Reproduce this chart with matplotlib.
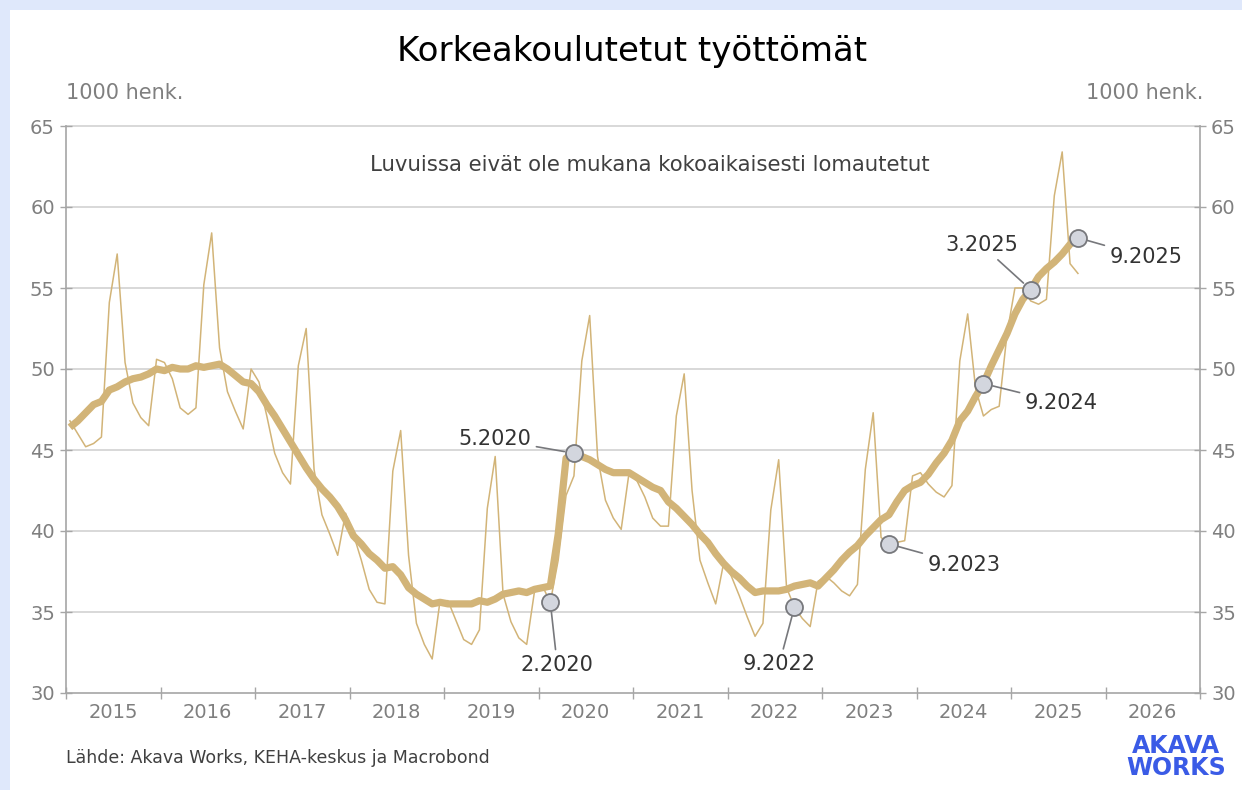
import matplotlib
matplotlib.use('Agg')
import matplotlib.pyplot as plt
import numpy as np
from matplotlib.patches import Rectangle

# kuukausidata 1.2015 - 9.2025 (1000 henk.)
monthly = [
    46.8, 46.0, 45.2, 45.4, 45.8, 54.1, 57.1, 50.4, 47.9, 47.0, 46.5, 50.6,
    50.4, 49.4, 47.6, 47.2, 47.6, 55.2, 58.4, 51.3, 48.6, 47.4, 46.3, 50.0,
    49.2, 47.1, 44.8, 43.6, 42.9, 50.2, 52.5, 43.8, 41.0, 39.8, 38.5, 41.1,
    39.8, 38.2, 36.4, 35.6, 35.5, 43.7, 46.2, 38.5, 34.3, 33.0, 32.1, 35.7,
    35.7, 34.5, 33.3, 33.0, 33.9, 41.4, 44.6, 36.1, 34.4, 33.4, 33.0, 36.3,
    36.6, 35.6, 38.2, 42.2, 43.4, 50.5, 53.3, 44.6, 41.9, 40.8, 40.1, 43.6,
    43.1, 42.1, 40.8, 40.3, 40.3, 47.1, 49.7, 42.5, 38.2, 36.8, 35.5, 38.0,
    37.2, 36.0, 34.7, 33.5, 34.3, 41.3, 44.4, 36.5, 35.3, 34.6, 34.1, 36.9,
    37.2, 36.8, 36.3, 36.0, 36.7, 43.8, 47.3, 39.6, 39.2, 39.3, 39.4, 43.4,
    43.6, 42.9, 42.4, 42.1, 42.8, 50.5, 53.4, 48.8, 47.1, 47.5, 47.7, 52.2,
    55.0, 55.0, 54.2, 54.0, 54.3, 60.7, 63.4, 56.5, 55.9,
]

trend = [
    46.4, 46.8, 47.3, 47.8, 48.0, 48.7, 48.9, 49.2, 49.4, 49.5, 49.7, 50.0,
    49.9, 50.1, 50.0, 50.0, 50.2, 50.1, 50.2, 50.3, 50.0, 49.6, 49.2, 49.1,
    48.6, 47.8, 47.1, 46.3, 45.5, 44.7, 43.9, 43.2, 42.6, 42.1, 41.5, 40.7,
    39.7, 39.2, 38.6, 38.2, 37.7, 37.8, 37.3, 36.5, 36.1, 35.8, 35.5, 35.6,
    35.5, 35.5, 35.5, 35.5, 35.7, 35.6, 35.8, 36.1, 36.2, 36.3, 36.2, 36.4,
    36.5, 36.6, 39.8, 44.5, 44.8, 44.6, 44.4, 44.1, 43.8, 43.6, 43.6, 43.6,
    43.3, 43.0, 42.7, 42.5, 41.8, 41.4, 40.9, 40.4, 39.8, 39.3, 38.6, 38.0,
    37.5, 37.1, 36.6, 36.2, 36.3, 36.3, 36.3, 36.4, 36.6, 36.7, 36.8, 36.6,
    37.1, 37.6, 38.2, 38.7, 39.1, 39.7, 40.2, 40.7, 41.0, 41.8, 42.5, 42.8,
    43.0, 43.5, 44.2, 44.8, 45.6, 46.8, 47.4, 48.3, 49.1, 50.2, 51.2, 52.2,
    53.4, 54.3, 54.9, 55.7, 56.2, 56.6, 57.1, 57.7, 58.1,
]

years = list(range(2015, 2027))
y_ticks = [30, 35, 40, 45, 50, 55, 60, 65]

# merkityt pisteet: (kuukausi-indeksi, sarja, teksti, tekstin siirto pisteinä, tasaus)
markers = [
    (61, 'monthly', '2.2020', (5, -38), 'center'),
    (64, 'trend', '5.2020', (-31, 10), 'right'),
    (92, 'monthly', '9.2022', (-11, -34), 'center'),
    (104, 'monthly', '9.2023', (28, -15), 'left'),
    (116, 'trend', '9.2024', (30, -14), 'left'),
    (122, 'trend', '3.2025', (-9, 32), 'right'),
    (128, 'trend', '9.2025', (23, -14), 'left'),
]

line_col = '#d2b478'
grey = '#7f7f7f'

plt.rcParams['font.family'] = ['DejaVu Sans']

x = 2015 + (np.arange(len(monthly)) + 0.5) / 12.0

fig = plt.figure(figsize=(12.42, 7.90), dpi=100)
fig.patch.set_facecolor('white')
# vaaleansininen reunus ylhaalla ja vasemmalla
fig.patches.append(Rectangle((0, 1 - 10 / 790), 1, 10 / 790, transform=fig.transFigure,
                             facecolor='#dfe8fb', edgecolor='none', zorder=0))
fig.patches.append(Rectangle((0, 0), 10 / 1242, 1, transform=fig.transFigure,
                             facecolor='#dfe8fb', edgecolor='none', zorder=0))

ax = fig.add_axes([66 / 1242, 97 / 790, (1200 - 66) / 1242, (693 - 126) / 790])
ax.set_xlim(2015, 2027)
ax.set_ylim(30, 65)

ax.plot(x, monthly, color=line_col, lw=1.1, zorder=3)
ax.plot(x, trend, color=line_col, lw=5.2, solid_capstyle='butt', zorder=4)

# grid
for v in y_ticks[1:]:
    ax.axhline(v, color='#d6d6d6', lw=1.3, zorder=1, clip_on=False)

ax.set_yticks(y_ticks)
ax.tick_params(axis='y', which='both', left=True, right=True, labelleft=True, labelright=True,
               direction='inout', length=8, width=1, color='#a6a6a6', labelcolor=grey,
               labelsize=14, pad=4)
ax.set_xticks(list(range(2015, 2028)))
ax.set_xticklabels([])
ax.set_xticks([yy + 0.5 for yy in years], minor=True)
ax.set_xticklabels([str(yy) for yy in years], minor=True)
ax.tick_params(axis='x', which='major', direction='inout', length=8, width=1, color='#a6a6a6')
ax.tick_params(axis='x', which='minor', length=0, labelcolor=grey, labelsize=14, pad=7)
for s in ['left', 'right', 'bottom']:
    ax.spines[s].set_color('#a6a6a6')
    ax.spines[s].set_linewidth(1.2)
ax.spines['top'].set_visible(False)

# merkinnat
for i, series, label, off, ha in markers:
    xv = x[i]
    yv = monthly[i] if series == 'monthly' else trend[i]
    ax.scatter([xv], [yv], s=150, facecolor='#d3d6de', edgecolor='#77787c', lw=1.3, zorder=6)
    va = 'top' if off[1] < -30 else 'center'
    ax.annotate(label, xy=(xv, yv), xytext=off, textcoords='offset points',
                ha=ha, va=va, fontsize=15, color='#333333', zorder=7,
                arrowprops=dict(arrowstyle='-', color='#77787c', lw=1.2,
                                shrinkA=2, shrinkB=7))

ax.text(0.515, 0.931, 'Luvuissa eivät ole mukana kokoaikaisesti lomautetut',
        transform=ax.transAxes, ha='center', va='center', fontsize=15.3, color='#404040')

fig.text(632 / 1242, 1 - 52 / 790, 'Korkeakoulutetut työttömät', ha='center', va='center',
         fontsize=24.5, color='black')
fig.text(66 / 1242, 1 - 93 / 790, '1000 henk.', ha='left', va='center', fontsize=15,
         color=grey)
fig.text(1203 / 1242, 1 - 93 / 790, '1000 henk.', ha='right', va='center', fontsize=15,
         color=grey)
fig.text(66 / 1242, 1 - 758 / 790, 'Lähde: Akava Works, KEHA-keskus ja Macrobond', ha='left',
         va='center', fontsize=12.5, color='#404040')

fig.text(1176 / 1242, 1 - 746 / 790, 'AKAVA', ha='center', va='center', fontsize=17,
         fontweight='bold', color='#3a5be6')
fig.text(1176 / 1242, 1 - 768 / 790, 'WORKS', ha='center', va='center', fontsize=17,
         fontweight='bold', color='#3a5be6')

fig.savefig('out.png', dpi=100)
